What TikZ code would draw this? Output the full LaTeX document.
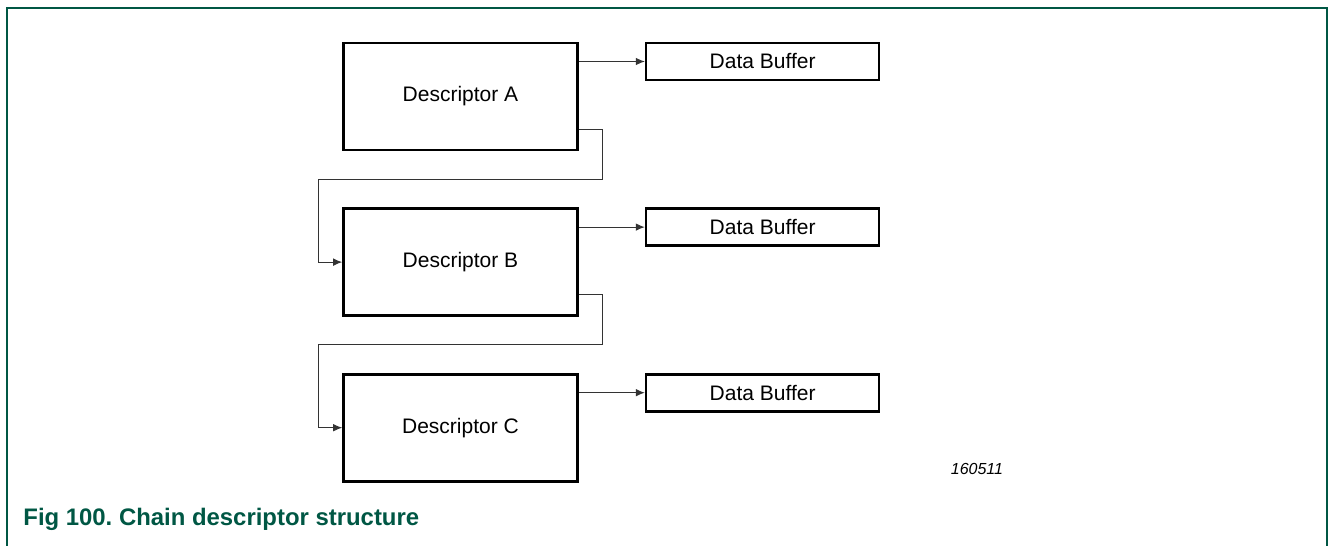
\documentclass[tikz,border=0pt]{standalone}
\usepackage{fontspec}
\setmainfont{Liberation Sans}
\usepackage{xcolor}
\usetikzlibrary{arrows.meta, positioning, calc}
\definecolor{figgreen}{RGB}{0,87,68}
\tikzset{
  descblock/.style={
    rectangle, draw=black, line width=1.3pt, fill=white,
    minimum width=117pt, minimum height=53.5pt,
    align=center, font=\fontsize{10.5}{12}\selectfont
  },
  bufblock/.style={
    rectangle, draw=black, line width=1.3pt, fill=white,
    minimum width=116.5pt, minimum height=18.5pt,
    align=center, font=\fontsize{10.5}{12}\selectfont
  },
  caption/.style={font=\bfseries\fontsize{11.95}{14}\selectfont, text=figgreen, anchor=west, inner sep=0pt},
  figid/.style={font=\itshape\fontsize{8}{10}\selectfont},
  frameline/.style={draw=figgreen, line width=1pt},
  arrowflow/.style={-{Latex[length=4.5pt,width=3.8pt]}, line width=0.5pt, draw=black!80}
}
\frenchspacing
\begin{document}
\begin{tikzpicture}[x=0.5pt, y=-0.5pt, node distance=28pt]
\useasboundingbox (0,0) rectangle (1328,546);

% outer frame
\draw[frameline] (6.5,546) -- (6.5,8) -- (1327,8) -- (1327,546);

% descriptors
\node[descblock] (descA) at (460.5,96.5) {Descriptor A};
\node[descblock, below=of descA] (descB) {Descriptor B};
\node[descblock, below=of descB] (descC) {Descriptor C};

% data buffers
\node[bufblock, right=33pt of descA.north east, anchor=north west] (bufA) {Data Buffer};
\node[bufblock, right=33pt of descB.north east, anchor=north west] (bufB) {Data Buffer};
\node[bufblock, right=33pt of descC.north east, anchor=north west] (bufC) {Data Buffer};

\foreach \a in {A, B, C}
  \draw[arrowflow] (buf\a.west -| desc\a.east) -- (buf\a.west);

\foreach \a/\b in {descA/descB, descB/descC}
  \draw[arrowflow] ($(\a.south east)+(0,11pt)$) -- ++(12pt,0) -- ++(0,-25pt)
    -| ($(\b.west)+(-12pt,0)$) -- (\b.west);

\node[figid] (figno) at (977,469) {160511};
\node[caption] (cap) at (23,519) {Fig 100. Chain descriptor structure};
\end{tikzpicture}
\end{document}
